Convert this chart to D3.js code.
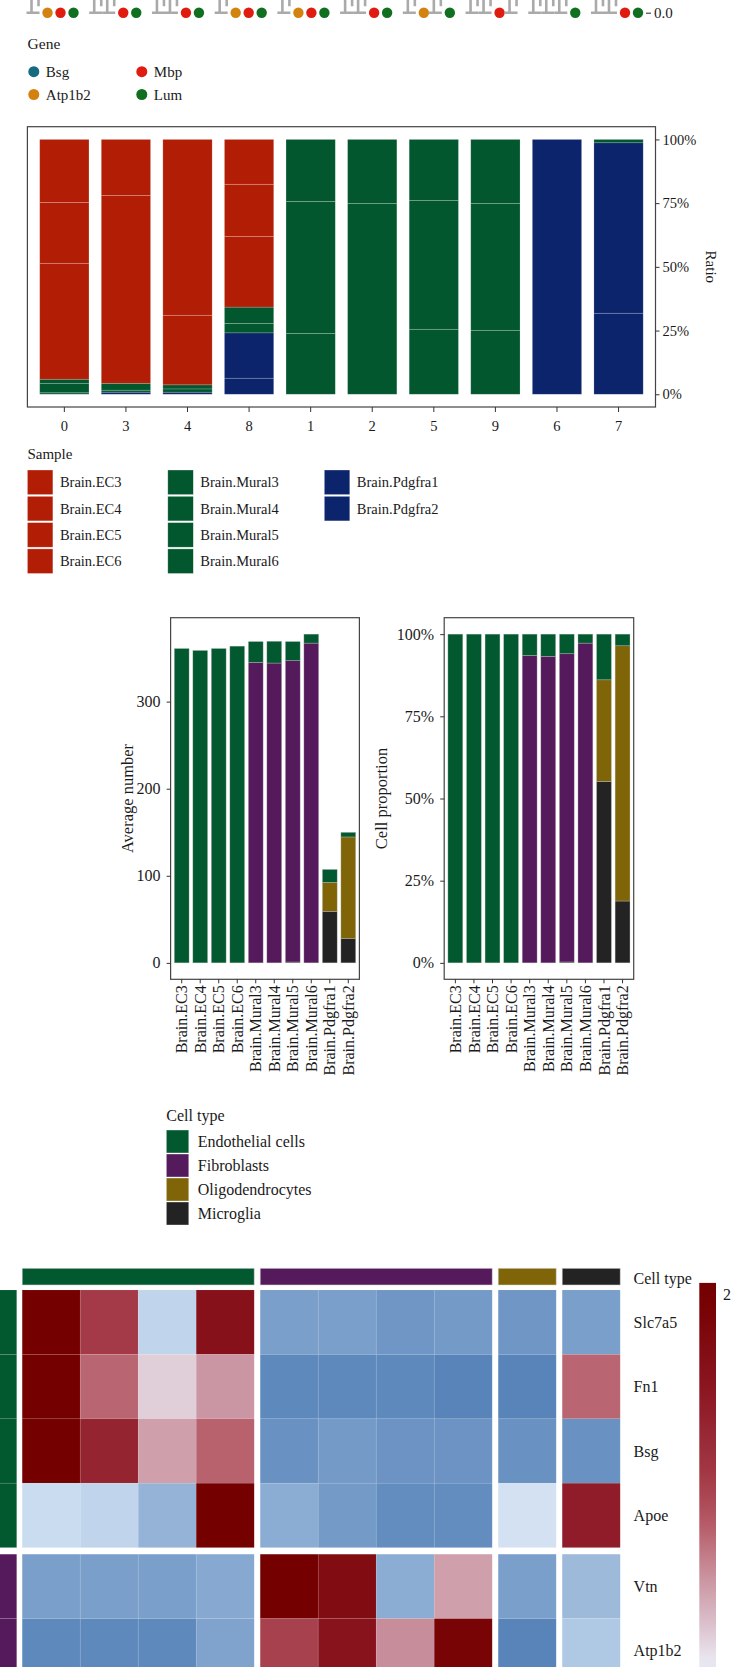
<!DOCTYPE html>
<html><head><meta charset="utf-8">
<script src="https://cdn.jsdelivr.net/npm/d3@7"></script>
<style>
body{margin:0;background:#fff}
svg{display:block}
text{font-family:"Liberation Serif","DejaVu Serif",serif;fill:#1a1a1a}
</style>
</head><body>
<svg id="c" width="731" height="1667"></svg>
<script>
// ---------------- DATA ----------------
// strip (bottom of a cropped expression plot)
const stripClusters = ["0","3","4","8","1","2","5","9","6","7"];
const genes = ["Bsg","Atp1b2","Mbp","Lum"];
const geneColors = ["#166b81","#d3820f","#e01c10","#117020"];
const zeroGenes = [["Atp1b2","Mbp","Lum"],["Mbp","Lum"],["Mbp","Lum"],["Atp1b2","Mbp","Lum"],["Atp1b2","Mbp","Lum"],["Mbp","Lum"],["Atp1b2","Lum"],["Mbp"],["Lum"],["Mbp","Lum"]];
const stripTicks = [0];

// cluster composition by sample (percent)
const clusters = ["0","3","4","8","1","2","5","9","6","7"];
const samples = ["Brain.EC3","Brain.EC4","Brain.EC5","Brain.EC6","Brain.Mural3","Brain.Mural4","Brain.Mural5","Brain.Mural6","Brain.Pdgfra1","Brain.Pdgfra2"];
const sampleColors = ["#b21e05","#b21e05","#b21e05","#b21e05","#03572f","#03572f","#03572f","#03572f","#0b246b","#0b246b"];
const ratioEC3     = [24.7, 22.0, 69.0, 17.6,  0,    0,    0,    0,    0,    0];
const ratioEC4     = [23.9, 73.7, 27.3, 20.5,  0,    0,    0,    0,    0,    0];
const ratioEC5     = [45.5,  0,    0,   27.7,  0,    0,    0,    0,    0,    0];
const ratioEC6     = [ 0,    0,    0,    0,    0,    0,    0,    0,    0,    0];
const ratioMural3  = [ 1.6,  2.7,  1.6,  6.4, 24.3, 25.1, 23.9, 25.1,  0,    1.3];
const ratioMural4  = [ 3.7,  0.8,  1.3,  3.7, 51.8, 74.9, 50.6, 49.8,  0,    0];
const ratioMural5  = [ 0.5,  0,    0,    0,   23.9,  0,   25.5, 25.1,  0,    0];
const ratioMural6  = [ 0,    0,    0,    0,    0,    0,    0,    0,    0,    0];
const ratioPdgfra1 = [ 0.1,  0.8,  0.8, 17.8,  0,    0,    0,    0,  100,   66.9];
const ratioPdgfra2 = [ 0,    0,    0,    6.3,  0,    0,    0,    0,    0,   31.8];
const ratioTicks = [0, 0.25, 0.5, 0.75, 1];

// cell types per sample (average number)
const cellTypes = ["Endothelial cells","Fibroblasts","Oligodendrocytes","Microglia"];
const cellColors = ["#03592f","#541a5c","#7f6508","#232323"];
const endoNum  = [361, 358.8, 361, 363.7, 24, 25, 22, 10.3, 14.9, 5.3];
const fibroNum = [0, 0, 0, 0, 345, 344.3, 346, 367.2, 0, 0];
const oligoNum = [0, 0, 0, 0, 0, 0, 0, 0, 33.2, 116.4];
const microNum = [0, 0, 0, 0, 0, 0, 1, 0, 59.2, 28.2];
const numTicks = [0, 100, 200, 300];
const propTicks = [0, 0.25, 0.5, 0.75, 1];

// heatmap (row z-scores)
const hmGenes = ["Slc7a5","Fn1","Bsg","Apoe","Vtn","Atp1b2"];
const hmGeneType = ["Endothelial cells","Endothelial cells","Endothelial cells","Endothelial cells","Fibroblasts","Fibroblasts"];
const hmSampleType = ["Endothelial cells","Endothelial cells","Endothelial cells","Endothelial cells","Fibroblasts","Fibroblasts","Fibroblasts","Fibroblasts","Oligodendrocytes","Microglia"];
const zSlc7a5 = [2.0, 1.0, -0.35, 1.6, -0.75, -0.75, -0.85, -0.8, -0.85, -0.75];
const zFn1    = [2.1, 0.7, 0.15, 0.45, -1.0, -1.0, -1.0, -1.05, -1.05, 0.7];
const zBsg    = [2.1, 1.3, 0.4, 0.72, -0.9, -0.8, -0.88, -0.88, -0.9, -0.9];
const zApoe   = [-0.3, -0.35, -0.6, 2.1, -0.65, -0.8, -0.95, -0.95, -0.2, 1.4];
const zVtn    = [-0.75, -0.75, -0.75, -0.68, 2.1, 1.7, -0.65, 0.4, -0.75, -0.55];
const zAtp1b2 = [-1.0, -1.0, -1.0, -0.72, 0.95, 1.55, 0.5, 1.9, -1.05, -0.45];
const legendTicks = [2];

// ---------------- DRAW ----------------
const svg = d3.select("#c");
svg.append("rect").attr("width",731).attr("height",1667).attr("fill","#fff");
const fs = (sel, s) => sel.style("font-size", s + "px");

// ---- top strip ----
const xs = d3.scaleBand().domain(stripClusters).range([22.65, 649.85]);
const xg = d3.scaleBand().domain(genes).range([-26, 26]);
const ys = d3.scaleLinear().domain([0, 1]).range([12.7, -60]);
const gColor = d3.scaleOrdinal().domain(genes).range(geneColors);
const strip = svg.append("g");
stripClusters.forEach((c, i) => {
  const cx = xs(c) + xs.bandwidth() / 2;
  genes.forEach(g => {
    const gx = cx + xg(g) + xg.bandwidth() / 2;
    if (zeroGenes[i].includes(g)) {
      strip.append("circle").attr("cx", gx).attr("cy", ys(0)).attr("r", 5.2).attr("fill", gColor(g));
    } else {
      strip.append("path")
        .attr("d", `M${gx-3},${ys(0.2)}V${ys(0)}M${gx-8},${ys(0)}H${gx+5}M${gx+4},${ys(0.2)}V${ys(0.09)}`)
        .attr("stroke", "#aaaaaa").attr("stroke-width", 2.6).attr("fill", "none");
    }
  });
});
const sAx = svg.append("g").attr("transform", "translate(646,0)")
  .call(d3.axisRight(ys).tickValues(stripTicks).tickFormat(d3.format(".1f")).tickSize(5).tickPadding(3));
sAx.select(".domain").remove();
sAx.selectAll("line").attr("stroke", "#222");
fs(sAx.selectAll("text"), 15).style("font-family", "Liberation Serif");

// gene legend (two columns: Bsg/Atp1b2, Mbp/Lum)
svg.append("text").attr("x", 27.6).attr("y", 43.3).attr("dy", "0.35em").text("Gene").call(fs, 15.5);
genes.forEach((g, i) => {
  const col = i < 2 ? 0 : 1, row = i % 2;
  const gx = col ? 141.8 : 33.8, gy = row ? 94.5 : 71.7;
  svg.append("circle").attr("cx", gx).attr("cy", gy).attr("r", 5.5).attr("fill", gColor(g));
  svg.append("text").attr("x", gx + 12).attr("y", gy).attr("dy", "0.35em").text(g).call(fs, 15);
});

// ---- stacked ratio chart ----
const P2 = {l: 27.4, r: 655.5, t: 126.7, b: 407};
const x2 = d3.scaleBand().domain(clusters).range([P2.l, P2.r]).paddingInner(0.2).paddingOuter(0.2);
const y2 = d3.scaleLinear().domain([-0.05, 1.05]).range([P2.b, P2.t]);
const ratioSeries = [ratioEC3, ratioEC4, ratioEC5, ratioEC6, ratioMural3, ratioMural4, ratioMural5, ratioMural6, ratioPdgfra1, ratioPdgfra2];
const ratioTable = clusters.map((c, i) => { const o = {cluster: c}; samples.forEach((s, j) => o[s] = ratioSeries[j][i]); return o; });
const sColor = d3.scaleOrdinal().domain(samples).range(sampleColors);
const st2 = d3.stack().keys(samples.slice().reverse()).offset(d3.stackOffsetExpand)(ratioTable);
const g2 = svg.append("g");
st2.forEach(layer => {
  layer.forEach(d => {
    const h = y2(d[0]) - y2(d[1]);
    if (!(h > 0)) return;
    g2.append("rect").attr("x", x2(d.data.cluster)).attr("width", x2.bandwidth())
      .attr("y", y2(d[1])).attr("height", h).attr("fill", sColor(layer.key))
      .attr("stroke", "rgba(255,255,255,0.25)").attr("stroke-width", 0.7);
  });
});
svg.append("rect").attr("x", P2.l).attr("y", P2.t).attr("width", P2.r - P2.l).attr("height", P2.b - P2.t)
  .attr("fill", "none").attr("stroke", "#444").attr("stroke-width", 1.2);
const ax2r = svg.append("g").attr("transform", `translate(${P2.r},0)`)
  .call(d3.axisRight(y2).tickValues(ratioTicks).tickFormat(d3.format(".0%")).tickSize(4).tickPadding(3));
const ax2b = svg.append("g").attr("transform", `translate(0,${P2.b})`)
  .call(d3.axisBottom(x2).tickSize(5).tickPadding(9));
[ax2r, ax2b].forEach(a => { a.select(".domain").remove(); a.selectAll("line").attr("stroke", "#333"); fs(a.selectAll("text"), 14.5).style("font-family", "Liberation Serif"); });
svg.append("text").attr("transform", `translate(704,${(y2(0) + y2(1)) / 2}) rotate(90)`).attr("text-anchor", "middle")
  .attr("dy", "-0.1em").text("Ratio").call(fs, 15);

// sample legend
svg.append("text").attr("x", 27.4).attr("y", 454).attr("dy", "0.35em").text("Sample").call(fs, 15);
const sCols = [[0, 4], [4, 8], [8, 10]];
const colX = [27.4, 167.8, 324.3];
sCols.forEach((rng, ci) => {
  samples.slice(rng[0], rng[1]).forEach((s, ri) => {
    const ky = 470 + ri * 26.3;
    svg.append("rect").attr("x", colX[ci]).attr("y", ky).attr("width", 25.5).attr("height", 24.6)
      .attr("fill", sColor(s)).attr("stroke", "rgba(255,255,255,0.5)").attr("stroke-width", 0.6);
    svg.append("text").attr("x", colX[ci] + 32.5).attr("y", ky + 12.3).attr("dy", "0.35em").text(s).call(fs, 14.5);
  });
});

// ---- cell type bars ----
const cellSeries = [endoNum, fibroNum, oligoNum, microNum];
const cellTable = samples.map((s, i) => { const o = {sample: s}; cellTypes.forEach((t, j) => o[t] = cellSeries[j][i]); return o; });
const cColor = d3.scaleOrdinal().domain(cellTypes).range(cellColors);
const maxTot = d3.max(cellTable, d => d3.sum(cellTypes, t => d[t]));
function cellPanel(P, yDomain, offset, ticks, fmt, title, titleX) {
  const x = d3.scaleBand().domain(samples).range([P.l, P.r]).paddingInner(0.2).paddingOuter(0.2);
  const y = d3.scaleLinear().domain(yDomain).range([P.b, P.t]);
  const st = d3.stack().keys(cellTypes.slice().reverse()).offset(offset)(cellTable);
  const g = svg.append("g");
  st.forEach(layer => layer.forEach(d => {
    const h = y(d[0]) - y(d[1]);
    if (!(h > 0)) return;
    g.append("rect").attr("x", x(d.data.sample)).attr("width", x.bandwidth()).attr("y", y(d[1])).attr("height", h)
      .attr("fill", cColor(layer.key)).attr("stroke", "rgba(200,200,200,0.55)").attr("stroke-width", 0.6);
  }));
  svg.append("rect").attr("x", P.l).attr("y", P.t).attr("width", P.r - P.l).attr("height", P.b - P.t)
    .attr("fill", "none").attr("stroke", "#444").attr("stroke-width", 1.2);
  const ay = svg.append("g").attr("transform", `translate(${P.l},0)`)
    .call(d3.axisLeft(y).tickValues(ticks).tickFormat(fmt).tickSize(4).tickPadding(6));
  const ax = svg.append("g").attr("transform", `translate(0,${P.b})`)
    .call(d3.axisBottom(x).tickSize(4).tickPadding(5));
  ax.selectAll("text").attr("transform", "rotate(-90)").attr("text-anchor", "end")
    .attr("x", -6).attr("y", 0).attr("dy", "0.35em");
  [ay, ax].forEach(a => { a.select(".domain").remove(); a.selectAll("line").attr("stroke", "#333"); fs(a.selectAll("text"), 16).style("font-family", "Liberation Serif"); });
  svg.append("text").attr("transform", `translate(${titleX},${(P.t + P.b) / 2}) rotate(-90)`).attr("text-anchor", "middle")
    .attr("dy", "0.35em").text(title).call(fs, 16.5);
}
cellPanel({l: 170.6, r: 359.4, t: 617.7, b: 979.3}, [-0.05 * maxTot, 1.05 * maxTot], d3.stackOffsetNone, numTicks, d3.format("d"), "Average number", 127);
cellPanel({l: 444.2, r: 633.7, t: 617.7, b: 979.3}, [-0.05, 1.05], d3.stackOffsetExpand, propTicks, d3.format(".0%"), "Cell proportion", 381);

// cell type legend
svg.append("text").attr("x", 166.3).attr("y", 1115).attr("dy", "0.35em").text("Cell type").call(fs, 16);
cellTypes.forEach((t, i) => {
  const ky = 1130 + i * 24;
  svg.append("rect").attr("x", 166.3).attr("y", ky).attr("width", 22.5).attr("height", 23)
    .attr("fill", cColor(t)).attr("stroke", "rgba(255,255,255,0.6)").attr("stroke-width", 0.6);
  svg.append("text").attr("x", 197.8).attr("y", ky + 11.5).attr("dy", "0.35em").text(t).call(fs, 16);
});

// ---- heatmap ----
const hmValues = [zSlc7a5, zFn1, zBsg, zApoe, zVtn, zAtp1b2];
const zColor = d3.scaleLinear()
  .domain([-1.1, -0.75, -0.3, 0, 0.25, 0.5, 0.75, 1, 1.5, 2])
  .range(["#5380b6", "#7a9fcb", "#c9dcf0", "#ebebf5", "#d9bac6", "#c88d9a", "#b65c68", "#a43a47", "#8a1520", "#740000"])
  .clamp(true);
const colGroups = Array.from(new Set(hmSampleType));
const rowGroups = Array.from(new Set(hmGeneType));
const xc = d3.scaleBand().domain(samples).range([22.2, 22.2 + 580]);
const colX0 = s => xc(s) + colGroups.indexOf(hmSampleType[samples.indexOf(s)]) * 6;
const yr = d3.scaleBand().domain(hmGenes).range([1290, 1290 + 6 * 64.4]);
const rowY0 = g => yr(g) + rowGroups.indexOf(hmGeneType[hmGenes.indexOf(g)]) * 6.6;
const hg = svg.append("g");
hmGenes.forEach((g, ri) => samples.forEach((s, ci) => {
  hg.append("rect").attr("x", colX0(s)).attr("y", rowY0(g)).attr("width", xc.bandwidth()).attr("height", yr.bandwidth())
    .attr("fill", zColor(hmValues[ri][ci])).attr("stroke", "rgba(255,255,255,0.12)").attr("stroke-width", 0.6);
}));
// column annotation
colGroups.forEach(t => {
  const members = samples.filter((s, i) => hmSampleType[i] === t);
  const x0 = colX0(members[0]), x1 = colX0(members[members.length - 1]) + xc.bandwidth();
  svg.append("rect").attr("x", x0).attr("y", 1268.3).attr("width", x1 - x0).attr("height", 16.7)
    .attr("fill", cColor(t)).attr("stroke", "rgba(210,210,210,0.8)").attr("stroke-width", 0.7);
});
// row annotation
hmGenes.forEach((g, i) => {
  svg.append("rect").attr("x", -1).attr("y", rowY0(g)).attr("width", 17.7).attr("height", yr.bandwidth())
    .attr("fill", cColor(hmGeneType[i])).attr("stroke", "rgba(255,255,255,0.15)").attr("stroke-width", 0.6);
});
svg.append("text").attr("x", 633.6).attr("y", 1278).attr("dy", "0.35em").text("Cell type").call(fs, 16);
hmGenes.forEach(g => {
  svg.append("text").attr("x", 633.6).attr("y", rowY0(g) + yr.bandwidth() / 2).attr("dy", "0.35em").text(g).call(fs, 16);
});
// color legend
const yl = d3.scaleLinear().domain([2, 0]).range([1294, 1664]);
const grad = svg.append("defs").append("linearGradient").attr("id", "zg")
  .attr("gradientUnits", "userSpaceOnUse").attr("x1", 0).attr("x2", 0).attr("y1", yl(2.06)).attr("y2", yl(-2));
d3.range(0, 41).forEach(k => {
  const v = 2.06 - k * (4.06 / 40);
  grad.append("stop").attr("offset", (k / 40)).attr("stop-color", zColor(v));
});
svg.append("rect").attr("x", 699.3).attr("y", yl(2.06)).attr("width", 16.7).attr("height", yl(-2) - yl(2.06)).attr("fill", "url(#zg)");
legendTicks.forEach(v => {
  svg.append("text").attr("x", 723).attr("y", yl(v)).attr("dy", "0.35em").text(v).call(fs, 16);
});
</script>
</body></html>
